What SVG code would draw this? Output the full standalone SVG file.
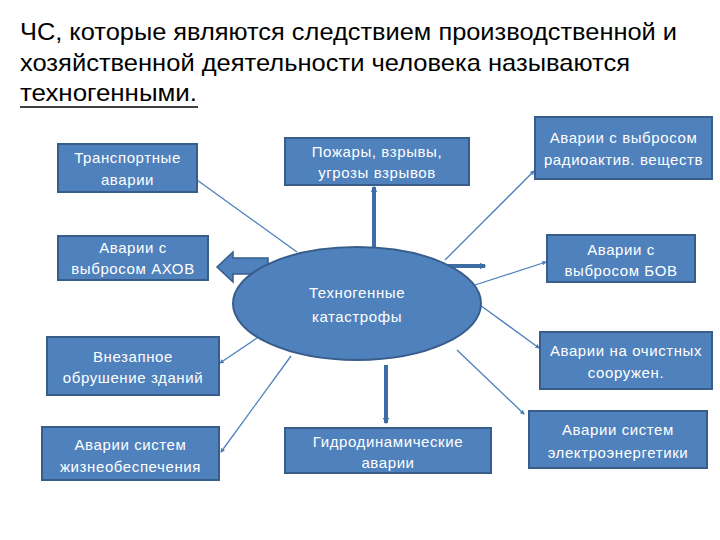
<svg xmlns="http://www.w3.org/2000/svg" width="720" height="540" viewBox="0 0 720 540">
<style>
.title{font-family:"Liberation Sans","DejaVu Sans",sans-serif;font-size:24px;fill:#000}
.box{fill:#4F81BD;stroke:#385D8A;stroke-width:2}
.lbl{font-family:"Liberation Sans","DejaVu Sans",sans-serif;font-size:15px;fill:#fff;text-anchor:middle;letter-spacing:0.6px}
.thin{stroke:#4A7EBB;stroke-width:1.3;fill:none}
.thick{stroke:#3E6DA6;stroke-width:4;fill:none}
</style>
<defs>
<marker id="sa" viewBox="0 0 10 10" refX="8" refY="5" markerWidth="3.5" markerHeight="3.5" orient="auto" markerUnits="strokeWidth">
<path d="M0,0 L10,5 L0,10 z" fill="#4A7EBB"/>
</marker>
<marker id="ta" viewBox="0 0 10 10" refX="8" refY="5" markerWidth="1.6" markerHeight="1.6" orient="auto" markerUnits="strokeWidth">
<path d="M0,0 L10,5 L0,10 z" fill="#3E6DA6"/>
</marker>
</defs>
<rect width="720" height="540" fill="#fff"/>
<g id="title">
<text class="title" x="20" y="40" textLength="657" lengthAdjust="spacingAndGlyphs">ЧС, которые являются следствием производственной и</text>
<text class="title" x="20" y="71" textLength="610" lengthAdjust="spacingAndGlyphs">хозяйственной деятельности человека называются</text>
<text class="title" x="20" y="101" textLength="177" lengthAdjust="spacingAndGlyphs">техногенными.</text>
<line x1="20" y1="107" x2="198" y2="107" stroke="#000" stroke-width="1.5"/>
</g>
<g id="connectors">
<line class="thin" x1="297" y1="252" x2="197" y2="180"/>
<line class="thin" x1="445" y1="260" x2="534" y2="171" marker-end="url(#sa)"/>
<line class="thin" x1="475" y1="285" x2="546" y2="262" marker-end="url(#sa)"/>
<line class="thin" x1="480" y1="305" x2="539" y2="348" marker-end="url(#sa)"/>
<line class="thin" x1="457" y1="350" x2="524" y2="414" marker-end="url(#sa)"/>
<line class="thin" x1="257" y1="338" x2="220" y2="363" marker-end="url(#sa)"/>
<line class="thin" x1="291" y1="356" x2="221" y2="452" marker-end="url(#sa)"/>
<line class="thick" x1="374" y1="253" x2="374" y2="187" marker-end="url(#ta)"/>
<line class="thick" x1="448" y1="266" x2="485" y2="266" marker-end="url(#ta)"/>
<line class="thick" x1="386" y1="365" x2="386" y2="423" marker-end="url(#ta)"/>
<path id="left-arrow" d="M268,258 L233,258 L233,252 L217,267 L233,282 L233,274 L268,274 Z" fill="#4F81BD" stroke="#385D8A" stroke-width="1.5"/>
</g>
<g id="center">
<ellipse class="box" cx="357" cy="303.5" rx="124" ry="56.5"/>
<text class="lbl" x="357" y="298">Техногенные</text>
<text class="lbl" x="357" y="322">катастрофы</text>
</g>
<g id="n-transport">
<rect class="box" x="58" y="144" width="139" height="48"/>
<text class="lbl" x="127.5" y="163">Транспортные</text>
<text class="lbl" x="127.5" y="185">аварии</text>
</g>
<g id="n-ahov">
<rect class="box" x="58" y="236" width="150" height="44"/>
<text class="lbl" x="133" y="253">Аварии с</text>
<text class="lbl" x="133" y="274">выбросом АХОВ</text>
</g>
<g id="n-fire">
<rect class="box" x="285" y="138" width="184" height="47"/>
<text class="lbl" x="377" y="157">Пожары, взрывы,</text>
<text class="lbl" x="377" y="178">угрозы взрывов</text>
</g>
<g id="n-radio">
<rect class="box" x="535" y="117" width="177" height="62"/>
<text class="lbl" x="623.5" y="143">Аварии с выбросом</text>
<text class="lbl" x="623.5" y="165">радиоактив. веществ</text>
</g>
<g id="n-bov">
<rect class="box" x="547" y="235" width="148" height="47"/>
<text class="lbl" x="621" y="255">Аварии с</text>
<text class="lbl" x="621" y="276">выбросом БОВ</text>
</g>
<g id="n-clean">
<rect class="box" x="540" y="332" width="172" height="57"/>
<text class="lbl" x="626" y="356">Аварии на очистных</text>
<text class="lbl" x="626" y="378">сооружен.</text>
</g>
<g id="n-electro">
<rect class="box" x="529" y="411" width="178" height="57"/>
<text class="lbl" x="618" y="435">Аварии систем</text>
<text class="lbl" x="618" y="458">электроэнергетики</text>
</g>
<g id="n-hydro">
<rect class="box" x="285" y="428" width="206" height="45"/>
<text class="lbl" x="388" y="447">Гидродинамические</text>
<text class="lbl" x="388" y="468">аварии</text>
</g>
<g id="n-collapse">
<rect class="box" x="47" y="337" width="172" height="58"/>
<text class="lbl" x="133" y="362">Внезапное</text>
<text class="lbl" x="133" y="383">обрушение зданий</text>
</g>
<g id="n-life">
<rect class="box" x="42" y="427" width="177" height="53"/>
<text class="lbl" x="130.5" y="450">Аварии систем</text>
<text class="lbl" x="130.5" y="472">жизнеобеспечения</text>
</g>
</svg>
